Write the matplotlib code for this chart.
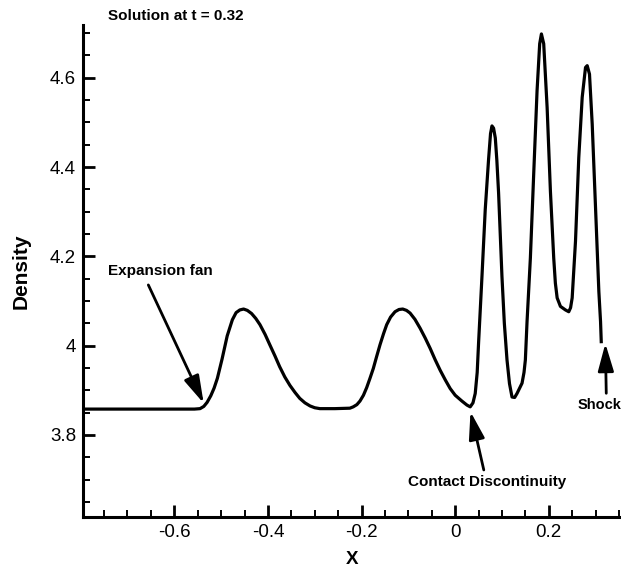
import matplotlib

matplotlib.use("Agg")
import matplotlib.pyplot as plt
from matplotlib.ticker import MultipleLocator, FormatStrFormatter

plt.rcParams["font.family"] = ["Liberation Sans", "DejaVu Sans"]
plt.rcParams["axes.unicode_minus"] = False

# density profile
x_vals = [
    -0.795, -0.70, -0.60, -0.557, -0.545, -0.537, -0.530, -0.522, -0.515,
    -0.508, -0.498, -0.487, -0.476, -0.468, -0.460, -0.452, -0.444, -0.435,
    -0.426, -0.417, -0.406, -0.396, -0.385, -0.375, -0.364, -0.353, -0.342,
    -0.332, -0.321, -0.310, -0.300, -0.289, -0.257, -0.225, -0.2178, -0.210,
    -0.2034, -0.196, -0.1891, -0.182, -0.1749, -0.168, -0.1606, -0.153,
    -0.1463, -0.138, -0.1285, -0.120, -0.112, -0.104, -0.0964, -0.086,
    -0.0749, -0.064, -0.0535, -0.043, -0.0321, -0.021, -0.0107, 0.0, 0.0143,
    0.0251, 0.0321, 0.038, 0.0428, 0.047, 0.0499, 0.0572, 0.0642, 0.0713,
    0.0755, 0.0786, 0.082, 0.0857, 0.089, 0.0927, 0.0999, 0.105, 0.1107,
    0.116, 0.1214, 0.127, 0.1321, 0.1428, 0.147, 0.1499, 0.1535, 0.1606,
    0.1677, 0.1749, 0.1805, 0.1842, 0.1891, 0.1964, 0.2034, 0.2105, 0.214,
    0.2178, 0.2248, 0.2355, 0.2426, 0.2465, 0.2499, 0.257, 0.264, 0.2713,
    0.2784, 0.282, 0.2869, 0.2927, 0.2998, 0.3069, 0.3105, 0.312,
]
rho_vals = [
    3.858, 3.858, 3.858, 3.858, 3.859, 3.864, 3.873, 3.888, 3.905,
    3.927, 3.970, 4.022, 4.058, 4.074, 4.080, 4.082, 4.079, 4.072,
    4.061, 4.047, 4.025, 4.002, 3.977, 3.953, 3.930, 3.911, 3.895,
    3.882, 3.872, 3.865, 3.861, 3.859, 3.859, 3.860, 3.863, 3.868,
    3.876, 3.889, 3.906, 3.927, 3.949, 3.975, 4.002, 4.027,
    4.047, 4.064, 4.076, 4.081, 4.082, 4.079, 4.073, 4.059,
    4.039, 4.017, 3.994, 3.969, 3.945, 3.923, 3.904, 3.889, 3.876,
    3.867, 3.863, 3.872, 3.893, 3.940, 4.005, 4.155, 4.305, 4.417,
    4.475, 4.492, 4.487, 4.465, 4.415, 4.342, 4.155, 4.050, 3.968,
    3.915, 3.885, 3.884, 3.893, 3.916, 3.940, 3.968, 4.054, 4.196,
    4.384, 4.571, 4.676, 4.698, 4.676, 4.533, 4.346, 4.196, 4.140,
    4.107, 4.088, 4.080, 4.076, 4.085, 4.107, 4.234, 4.421, 4.556,
    4.623, 4.627, 4.608, 4.496, 4.309, 4.121, 4.054, 4.009,
]

x_ticks = [-0.6, -0.4, -0.2, 0.0, 0.2]
y_ticks = [3.8, 4.0, 4.2, 4.4, 4.6]

fig = plt.figure(figsize=(6.21, 5.71), dpi=100)
ax = fig.add_axes([0.1337, 0.0946, 0.8663, 0.8616])

ax.plot(x_vals, rho_vals, color="black", lw=2.3, solid_joinstyle="round")

ax.set_xlim(-0.795, 0.3542)
ax.set_ylim(3.6164, 4.718)
ax.set_xticks(x_ticks)
ax.set_yticks(y_ticks)
ax.xaxis.set_minor_locator(MultipleLocator(0.05))
ax.yaxis.set_minor_locator(MultipleLocator(0.05))
ax.xaxis.set_major_formatter(FormatStrFormatter("%g"))
ax.yaxis.set_major_formatter(FormatStrFormatter("%g"))

for side in ("top", "right"):
    ax.spines[side].set_visible(False)
for side in ("left", "bottom"):
    ax.spines[side].set_linewidth(2.2)

ax.tick_params(which="major", direction="in", length=8.6, width=2.0,
               labelsize=13.5, pad=5)
ax.tick_params(which="minor", direction="in", length=5.3, width=1.4)

fig.text(108 / 621, 1 - 20 / 571, "Solution at t = 0.32", fontsize=11,
         fontweight="bold", ha="left", va="baseline")
fig.text(21 / 621, 1 - 271 / 571, "Density", fontsize=15, fontweight="bold",
         rotation=90, ha="center", va="center")
fig.text(351.7 / 621, 1 - 560 / 571, "X", fontsize=13.5, fontweight="bold",
         ha="center", va="center")

arrow = dict(arrowstyle="-|>,head_length=1.4,head_width=0.4", color="black",
             lw=2.0, shrinkA=0, shrinkB=0, mutation_scale=12)

# labels
ax.text(-0.741, 4.167, "Expansion fan", fontsize=11, fontweight="bold",
        ha="left", va="center")
ax.text(0.0684, 3.6955, "Contact Discontinuity", fontsize=11,
        fontweight="bold", ha="center", va="center")
ax.text(0.2615, 3.867, "Shock", fontsize=10.5, fontweight="bold",
        ha="left", va="center", clip_on=False)

# arrows
ax.annotate("", xy=(-0.5373, 3.871), xytext=(-0.6555, 4.136),
            arrowprops=arrow)
ax.annotate("", xy=(0.0327, 3.8522), xytext=(0.0611, 3.7217),
            arrowprops=arrow)
ax.annotate("", xy=(0.3208, 4.005), xytext=(0.3227, 3.8934),
            arrowprops=arrow, annotation_clip=False)

fig.savefig("out.png", dpi=100)
plt.close(fig)
